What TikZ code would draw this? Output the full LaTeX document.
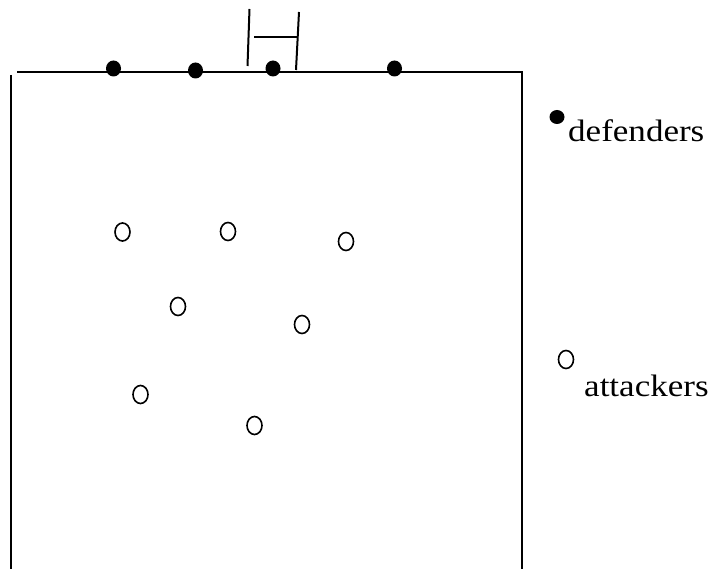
\documentclass[tikz,border=0pt]{standalone}
\usepackage{fontspec}
\setmainfont{Liberation Serif}
\usetikzlibrary{shapes.geometric}
\begin{document}
\begin{tikzpicture}[x=1pt,y=-1pt,
  fieldline/.style={line width=2pt},
  defender/.style={ellipse,fill=black,minimum width=15pt,minimum height=16pt,inner sep=0pt},
  attacker/.style={ellipse,draw=black,line width=1.6pt,fill=white,minimum width=15pt,minimum height=18pt,inner sep=0pt},
  lbl/.style={inner sep=0pt,font=\fontsize{31}{36}\selectfont}]
\useasboundingbox (0,0) rectangle (710,569);
% field
\draw[fieldline] (10.5,75) -- (10.5,569);
\draw[fieldline] (17,72.5) -- (522,72.5) -- (522,569);
% goal
\draw[fieldline] (249.5,9) -- (247.5,66);
\draw[fieldline] (299,12) -- (296,70);
\draw[fieldline] (254,37) -- (297,37);
% defenders
\node[defender] (d1) at (113.5,68.5) {};
\node[defender] (d2) at (195.5,70.5) {};
\node[defender] (d3) at (273,68.5) {};
\node[defender] (d4) at (394.5,68.5) {};
% attackers
\node[attacker] (a1) at (122.5,232) {};
\node[attacker] (a2) at (228,231.5) {};
\node[attacker] (a3) at (346,241.5) {};
\node[attacker] (a4) at (178,306.5) {};
\node[attacker] (a5) at (302,324.5) {};
\node[attacker] (a6) at (140.5,394.5) {};
\node[attacker] (a7) at (254.5,425.5) {};
% legend
\node[defender,minimum width=15pt,minimum height=14pt] (ld) at (557,117) {};
\node[lbl,anchor=base west] (lt1) at (568,141.5) {\scalebox{1.13}[1]{defenders}};
\node[attacker] (la) at (566,359.5) {};
\node[lbl,anchor=base west] (lt2) at (584,396) {\scalebox{1.13}[1]{attackers}};
\end{tikzpicture}
\end{document}
